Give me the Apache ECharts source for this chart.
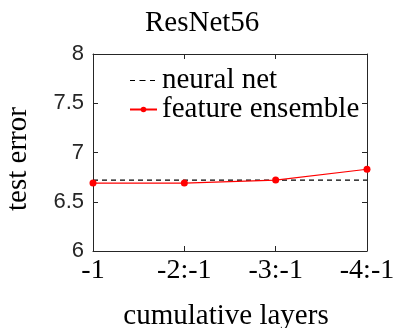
<!DOCTYPE html>
<html><head><meta charset="utf-8">
<script src="https://cdn.jsdelivr.net/npm/echarts@6/dist/echarts.min.js"></script>
<style>html,body{margin:0;padding:0;background:#fff}#c{width:394px;height:328px}</style>
</head><body><div id="c"></div>
<script>
const categories = ['-1', '-2:-1', '-3:-1', '-4:-1'];
const neuralNet = [6.72, 6.72, 6.72, 6.72];
const featureEnsemble = [6.69, 6.69, 6.72, 6.83];
const yTicks = [6, 6.5, 7, 7.5, 8];

const serif = '"Liberation Serif", "DejaVu Serif", serif';
const sans = '"Liberation Sans", Arial, sans-serif';
const axisCol = '#262626';
const dashIcon = 'path://M0,0h0.01v0.01h-0.01z M0,2.9h5v1.2h-5z M9.5,2.9h6v1.2h-6z M20,2.9h5v1.2h-5z M27,7h-0.01v-0.01h0.01z';
const chart = echarts.init(document.getElementById('c'), null, {renderer: 'canvas'});
const baseX = {
  type: 'category', data: categories, boundaryGap: false,
  axisLine: {show: true, lineStyle: {color: axisCol, width: 1}},
  axisTick: {show: true, inside: true, length: 5, alignWithLabel: true, lineStyle: {color: axisCol}},
  splitLine: {show: false}
};
const baseY = {
  type: 'value', min: 6, max: 8, interval: 0.5,
  axisLine: {show: true, lineStyle: {color: axisCol, width: 1}},
  axisTick: {show: true, inside: true, length: 5, lineStyle: {color: axisCol}},
  splitLine: {show: false}
};
chart.setOption({
  animation: false,
  textStyle: {fontFamily: serif},
  title: {text: 'ResNet56', left: 140, top: 4,
    textStyle: {fontFamily: serif, fontSize: 29, fontWeight: 'normal', color: '#000'}},
  grid: {left: 93, right: 27, top: 54, bottom: 77, containLabel: false, outerBoundsMode: 'none'},
  legend: {
    left: 124, top: 61, orient: 'vertical', itemWidth: 27, itemHeight: 7, itemGap: 0,
    textStyle: {fontFamily: serif, fontSize: 29, color: '#000', lineHeight: 28},
    data: [
      {name: 'neural net', icon: dashIcon},
      {name: 'feature ensemble'}
    ]
  },
  xAxis: [
    Object.assign({}, baseX, {position: 'bottom',
      name: 'cumulative layers', nameLocation: 'middle', nameGap: 51,
      nameTextStyle: {fontFamily: serif, fontSize: 29, color: '#000', padding: [0, 8, 0, 0]},
      axisLabel: {fontFamily: serif, fontSize: 28, color: '#000', margin: 6}}),
    Object.assign({}, baseX, {position: 'top', axisLabel: {show: false}})
  ],
  yAxis: [
    Object.assign({}, baseY, {position: 'left',
      name: 'test error', nameLocation: 'middle', nameGap: 60,
      nameTextStyle: {fontFamily: serif, fontSize: 29, color: '#000', padding: [0, 13, 0, 0]},
      axisLabel: {fontFamily: sans, fontSize: 22, color: '#262626', margin: 9,
        customValues: yTicks, formatter: v => String(v)}}),
    Object.assign({}, baseY, {position: 'right', axisLabel: {show: false}})
  ],
  series: [
    {name: 'neural net', type: 'line', data: neuralNet, symbol: 'none',
      lineStyle: {color: '#000', width: 1.2, type: [5, 4]}, itemStyle: {color: '#000'}, z: 2},
    {name: 'feature ensemble', type: 'line', data: featureEnsemble, symbol: 'circle', symbolSize: 7,
      lineStyle: {color: '#ff0000', width: 1.2}, itemStyle: {color: '#ff0000'}, z: 3}
  ]
});
</script></body></html>
